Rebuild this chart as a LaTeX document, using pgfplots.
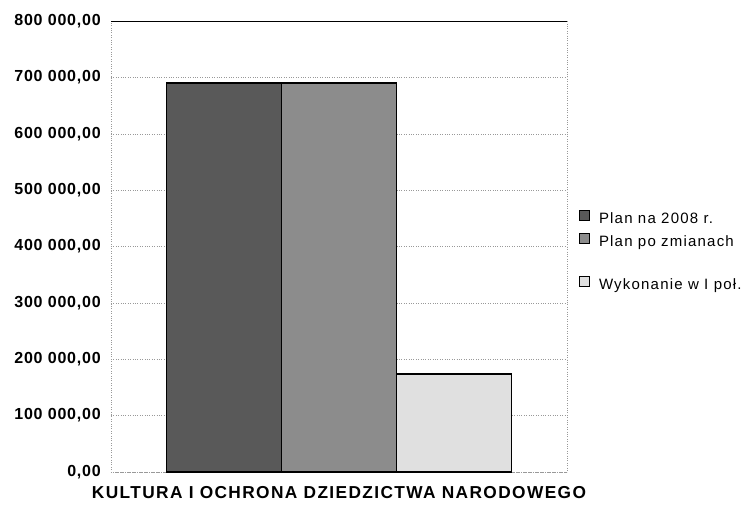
\documentclass[border=0pt]{standalone}
\usepackage{pgfplots}
\pgfplotsset{compat=1.18}
\usepackage{fontspec}
\setmainfont{Liberation Sans}
\begin{document}
\begin{tikzpicture}
\begin{axis}[
  name=ax,
  scale only axis, width=456pt, height=451pt,
  ymin=0, ymax=800000, xmin=-1, xmax=1,
  ybar, bar width=115pt,
  ytick={0,100000,200000,300000,400000,500000,600000,700000,800000},
  yticklabels={{0,00},{100 000,00},{200 000,00},{300 000,00},{400 000,00},{500 000,00},{600 000,00},{700 000,00},{800 000,00}},
  scaled y ticks=false,
  yticklabel style={font=\bfseries\fontsize{16}{18}\selectfont\addfontfeature{LetterSpace=5}, inner sep=0pt, xshift=-10pt},
  xtick={0},
  xticklabels={KULTURA I OCHRONA DZIEDZICTWA NARODOWEGO},
  xticklabel style={font=\bfseries\fontsize{17.3}{19}\selectfont\addfontfeature{LetterSpace=8}, inner sep=0pt, yshift=-14pt},
  major tick length=0pt,
  ymajorgrids,
  grid style={gray!80, dotted},
  axis line style={gray!80, dotted},
  legend style={draw=none, fill=none, at={(1,0.488)}, anchor=west, xshift=12pt,
    inner sep=0pt, outer sep=0pt, font=\fontsize{15}{17}\selectfont\addfontfeature{LetterSpace=8},
    row sep=5pt,
    nodes={text height=10pt, text depth=3pt, inner sep=1pt},
    /tikz/every odd column/.append style={column sep=8pt}},
  legend cell align=left,
]
\addplot[fill=black!65, draw=black, line width=1.3pt, bar shift=-115pt,
  legend image code/.code={\draw[fill=black!65, draw=black, line width=1pt] (0pt,0pt) rectangle (10pt,10pt);}]
  coordinates {(0,690000)};
\addlegendentry{Plan na 2008 r.}
\addplot[fill=black!45, draw=black, line width=1.3pt, bar shift=0pt,
  legend image code/.code={\draw[fill=black!45, draw=black, line width=1pt] (0pt,0pt) rectangle (10pt,10pt);}]
  coordinates {(0,690000)};
\addlegendentry{Plan po zmianach}
\addlegendimage{empty legend}
\addlegendentry{}
\addplot[fill=black!12, draw=black, line width=1.3pt, bar shift=115pt,
  legend image code/.code={\draw[fill=black!12, draw=black, line width=1pt] (0pt,0pt) rectangle (10pt,10pt);}]
  coordinates {(0,174000)};
\addlegendentry{Wykonanie w I poł.}
\draw[black, line width=1.5pt] (rel axis cs:0,1) -- (rel axis cs:1,1);
\end{axis}
\pgfresetboundingbox
\path[use as bounding box] (-111pt,-34pt) rectangle (643pt,472pt);
\end{tikzpicture}
\end{document}
